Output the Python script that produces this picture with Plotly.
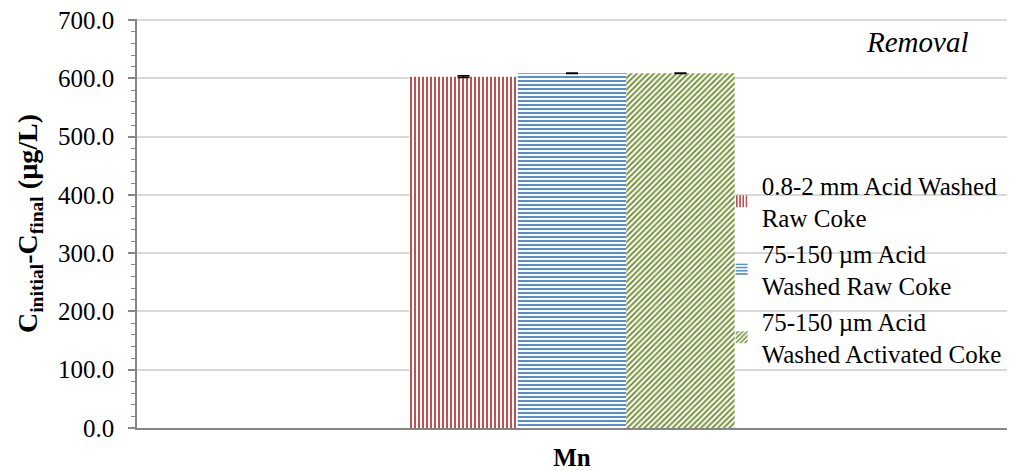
import plotly.graph_objects as go

categories = ["Mn"]
series_names = ["0.8-2 mm Acid Washed<br>Raw Coke",
                "75-150 µm Acid<br>Washed Raw Coke",
                "75-150 µm Acid<br>Washed Activated Coke"]
series_values = [[603.0], [609.0], [609.0]]
series_errors = [[1.5], [0.5], [0.5]]
series_colors = ["#C0504D", "#558ED5", "#77933C"]
series_patterns = ["|", "-", "/"]
y_ticks = [0, 100, 200, 300, 400, 500, 600, 700]
y_tick_labels = ["0.0", "100.0", "200.0", "300.0", "400.0", "500.0", "600.0", "700.0"]

FONT = "Liberation Serif"

fig = go.Figure()
for i, (name, vals, errs, col, pat) in enumerate(zip(series_names, series_values, series_errors,
                                                    series_colors, series_patterns)):
    fig.add_trace(go.Bar(
        x=categories, y=vals, name=name, legendgroup=f"g{i}",
        marker=dict(color="white", line=dict(width=0),
                    pattern=dict(shape=pat, fgcolor=col, bgcolor="white", fgopacity=1,
                                 size=4, solidity=0.5, fillmode="overlay")),
        error_y=dict(type="data", array=errs, visible=True, color="black",
                     thickness=1.5, width=6),
    ))

fig.update_layout(
    width=1016, height=463,
    margin=dict(l=129, r=17, t=11, b=43, autoexpand=False),
    paper_bgcolor="white", plot_bgcolor="white",
    barmode="group", bargap=0.626, bargroupgap=0,
    font=dict(family=FONT, color="black", size=25),
    showlegend=True,
    legend=dict(x=0.672, y=0.65, xanchor="left", yanchor="top",
                bgcolor="rgba(0,0,0,0)", borderwidth=0,
                font=dict(family=FONT, size=25, color="black"),
                tracegroupgap=0, itemwidth=30),
    xaxis=dict(showline=True, linecolor="#868686", linewidth=1.5,
               ticks="", showgrid=False, automargin=False,
               ticklabelstandoff=6,
               tickfont=dict(family=FONT, size=25, color="black"),
               tickprefix="<b>", ticksuffix="</b>"),
    yaxis=dict(range=[0, 702], tickvals=y_ticks, ticktext=y_tick_labels,
               showline=True, linecolor="#868686", linewidth=1.5,
               ticks="outside", ticklen=7, tickcolor="#868686", tickwidth=1.5,
               showgrid=True, gridcolor="#D9D9D9", gridwidth=1.5,
               zeroline=False, automargin=False, ticklabeloverflow="allow",
               minor=dict(dtick=20, ticks="outside", ticklen=4, tickcolor="#868686",
                          tickwidth=1, showgrid=False),
               tickfont=dict(family=FONT, size=25, color="black"),
               ticklabelstandoff=9,
               title=dict(text="<b>C<sub>initial</sub>-C<sub>final</sub> (µg/L)</b>",
                          font=dict(family=FONT, size=28, color="black"),
                          standoff=12)),
    shapes=[
        dict(type="rect", xref="paper", yref="paper", x0=0.6885, x1=1.02,
             y0=0.165, y1=0.68, fillcolor="white", line=dict(width=0), layer="between"),
        dict(type="rect", xref="paper", yref="paper", x0=0.81, x1=1.02,
             y0=0.872, y1=1.05, fillcolor="white", line=dict(width=0), layer="between"),
    ],
    annotations=[
        dict(text="<i>Removal</i>", xref="paper", yref="paper", x=0.8966, y=0.944,
             xanchor="center", yanchor="middle", showarrow=False,
             font=dict(family=FONT, size=29, color="black")),
    ],
)

fig.write_html("out.html")
